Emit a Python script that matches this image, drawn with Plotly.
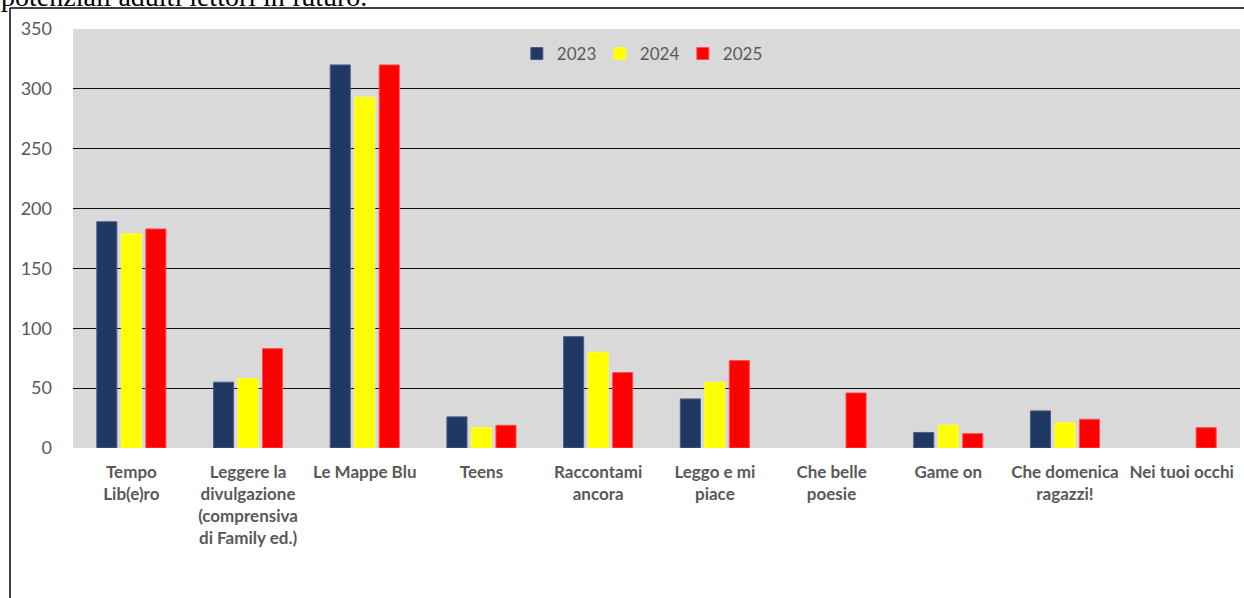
import plotly.graph_objects as go

categories = [
    "Tempo<br>Lib(e)ro",
    "Leggere la<br>divulgazione<br>(comprensiva<br>di Family ed.)",
    "Le Mappe Blu",
    "Teens",
    "Raccontami<br>ancora",
    "Leggo e mi<br>piace",
    "Che belle<br>poesie",
    "Game on",
    "Che domenica<br>ragazzi!",
    "Nei tuoi occhi",
]
values_2023 = [189, 55, 320, 26, 93, 41, None, 13, 31, None]
values_2024 = [179, 58, 293, 17, 80, 55, None, 19, 21, None]
values_2025 = [183, 83, 320, 19, 63, 73, 46, 12, 24, 17]
series_names = ["2023", "2024", "2025"]
series_colors = ["#1F3864", "#FFFF00", "#FF0000"]
line_colors = ["#4A5F86", "#FFFF33", "#FF4D4D"]
y_ticks = [0, 50, 100, 150, 200, 250, 300, 350]

fig = go.Figure()
for name, vals, col, lc in zip(series_names, [values_2023, values_2024, values_2025], series_colors, line_colors):
    fig.add_trace(go.Bar(
        name=name, x=categories, y=vals,
        marker=dict(color=col, line=dict(color=lc, width=1)),
    ))

PW = 1167.0
PH = 419.0
fig.update_layout(
    width=1244, height=598,
    margin=dict(l=73, r=4, t=29, b=150, autoexpand=False),
    paper_bgcolor="white",
    plot_bgcolor="#D9D9D9",
    barmode="group",
    bargap=0.37,
    bargroupgap=0.18,
    font=dict(family="Lato, 'Liberation Sans', sans-serif", color="#595959"),
    legend=dict(
        orientation="h", x=0.487, xanchor="center", y=(448-54)/PH, yanchor="middle",
        bgcolor="rgba(0,0,0,0)", font=dict(size=17, color="#595959"),
        itemwidth=30, traceorder="normal",
        entrywidth=38, entrywidthmode="pixels",
    ),
    showlegend=True,
)
fig.update_xaxes(
    type="category",
    tickfont=dict(size=17, color="#595959", family="Lato, 'Liberation Sans', sans-serif", weight="bold"),
    showgrid=False, showline=False, ticks="", ticklabelstandoff=12,
)
fig.update_yaxes(
    range=[0, 350], tickvals=y_ticks,
    showgrid=True, gridcolor="#111111", gridwidth=1.3,
    zeroline=False, showline=False, ticks="",
    tickfont=dict(size=18, color="#595959"),
    ticklabelstandoff=20,
)

# outer frame (top and left visible)
fig.add_shape(type="line", xref="paper", yref="paper",
              x0=-63/PW, x1=1.01, y0=(448-8)/PH, y1=(448-8)/PH,
              line=dict(color="black", width=1.5))
fig.add_shape(type="line", xref="paper", yref="paper",
              x0=-63/PW, x1=-63/PW, y0=(448-8)/PH, y1=-0.4,
              line=dict(color="black", width=1.5))

# cropped text from the page above the chart
fig.add_annotation(
    text="potenziali adulti lettori in futuro.",
    xref="paper", yref="paper", x=-74/PW, xanchor="left",
    y=(448+4)/PH, yanchor="middle", showarrow=False,
    font=dict(family="Liberation Serif, serif", size=28, color="black"),
)

fig.write_html("out.html", config={"displayModeBar": False},
               post_script="document.body.style.margin='0';")
